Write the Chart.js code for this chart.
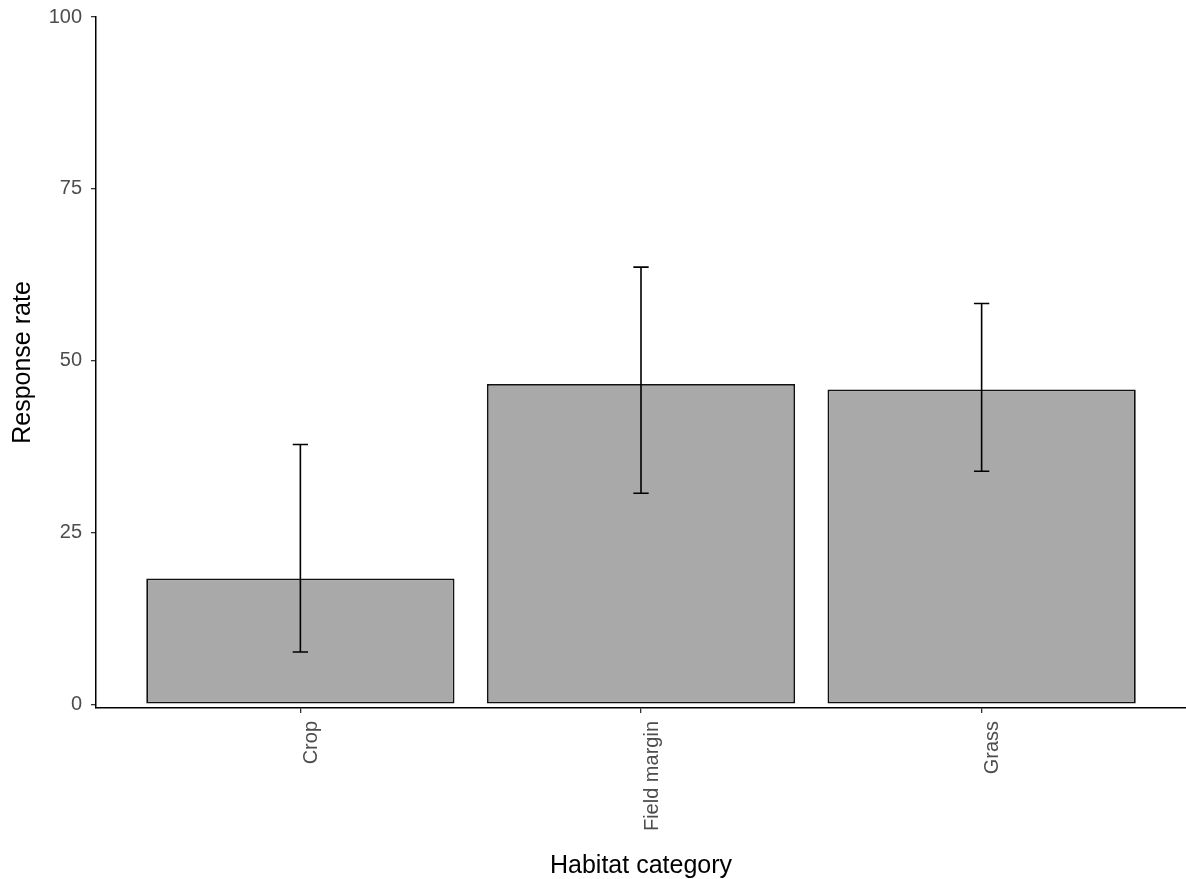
<!DOCTYPE html>
<html>
<head>
<meta charset="utf-8">
<script src="https://cdn.jsdelivr.net/npm/chart.js@4"></script>
<style>
  html, body { margin: 0; padding: 0; background: #ffffff; }
  #wrap { width: 1186px; height: 879px; position: relative; overflow: hidden; }
</style>
</head>
<body>
<div id="wrap"><canvas id="chart"></canvas></div>
<script>
// Habitat categories and their mean response rate (%)
const categories = ['Crop', 'Field margin', 'Grass'];
const responseRate = [18.3, 46.6, 45.8];
// Confidence interval bounds
const lowerCI = [7.6, 30.7, 33.9];
const upperCI = [37.8, 63.6, 58.3];
// Y axis tick values
const yTicks = [0, 25, 50, 75, 100];

const FONT = "'Liberation Sans', Arial, Helvetica, sans-serif";
const TICK_COLOR = '#4d4d4d';
const AXIS_COLOR = '#000000';

// Draws the error bars (vertical whisker with short caps) over each bar
const errorBars = {
  id: 'errorBars',
  afterDatasetsDraw(chart) {
    const { ctx, scales: { x, y } } = chart;
    const capWidth = 0.045; // in category units
    ctx.save();
    ctx.strokeStyle = '#000000';
    ctx.lineWidth = 1.6;
    categories.forEach((c, i) => {
      const cx = x.getPixelForValue(i + 1);
      const half = Math.abs(x.getPixelForValue(i + 1 + capWidth / 2) - cx);
      const yHi = y.getPixelForValue(upperCI[i]);
      const yLo = y.getPixelForValue(lowerCI[i]);
      ctx.beginPath();
      ctx.moveTo(cx, yHi);
      ctx.lineTo(cx, yLo);
      ctx.moveTo(cx - half, yHi);
      ctx.lineTo(cx + half, yHi);
      ctx.moveTo(cx - half, yLo);
      ctx.lineTo(cx + half, yLo);
      ctx.stroke();
    });
    ctx.restore();
  }
};

new Chart(document.getElementById('chart'), {
  type: 'bar',
  data: {
    datasets: [{
      data: responseRate.map((v, i) => ({ x: i + 1, y: v })),
      backgroundColor: '#a9a9a9',
      borderColor: '#111111',
      borderWidth: 1.8,
      borderSkipped: false,
      categoryPercentage: 1.0,
      barPercentage: 0.905
    }]
  },
  options: {
    responsive: true,
    maintainAspectRatio: false,
    animation: false,
    layout: { padding: { top: 17, right: 0, left: 0, bottom: 0 } },
    plugins: {
      legend: { display: false },
      tooltip: { enabled: false },
      title: { display: false }
    },
    scales: {
      x: {
        type: 'linear',
        min: 0.4,
        max: 3.6,
        offset: false,
        afterBuildTicks(scale) {
          scale.ticks = categories.map((c, i) => ({ value: i + 1 }));
        },
        afterFit(scale) {
          scale.height = 171;
          scale.paddingLeft = 0;
          scale.paddingRight = 0;
        },
        grid: {
          offset: false,
          drawOnChartArea: false,
          drawTicks: true,
          tickLength: 5,
          color: '#333333',
          lineWidth: 1.3
        },
        border: { display: true, color: AXIS_COLOR, width: 1.5 },
        ticks: {
          autoSkip: false,
          minRotation: 90,
          maxRotation: 90,
          padding: 8,
          labelOffset: 11,
          color: TICK_COLOR,
          font: { family: FONT, size: 20 },
          callback: (v) => categories[v - 1]
        },
        title: {
          display: true,
          text: 'Habitat category',
          color: '#000000',
          font: { family: FONT, size: 25, lineHeight: 1 },
          padding: { top: 0, bottom: 0 }
        }
      },
      y: {
        min: -0.55,
        max: 100,
        afterBuildTicks(scale) {
          scale.ticks = yTicks.map(v => ({ value: v }));
        },
        afterFit(scale) {
          scale.width = 96;
          scale.paddingTop = 0;
          scale.paddingBottom = 0;
        },
        grid: {
          drawOnChartArea: false,
          drawTicks: true,
          tickLength: 5,
          color: '#333333',
          lineWidth: 1.3
        },
        border: { display: true, color: AXIS_COLOR, width: 1.5 },
        ticks: {
          padding: 9,
          color: TICK_COLOR,
          font: { family: FONT, size: 20 }
        },
        title: {
          display: true,
          text: 'Response rate',
          color: '#000000',
          font: { family: FONT, size: 25, lineHeight: 1 },
          padding: { top: 11, bottom: 0 }
        }
      }
    }
  },
  plugins: [errorBars]
});
</script>
</body>
</html>
